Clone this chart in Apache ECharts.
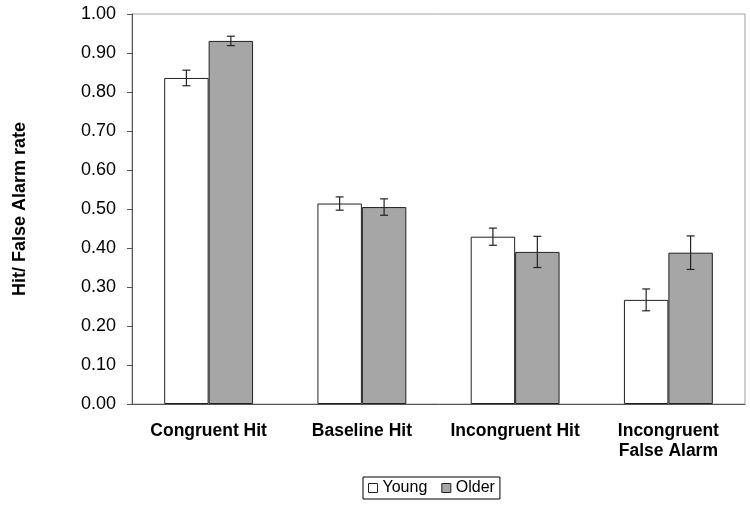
<!DOCTYPE html>
<html>
<head>
<meta charset="utf-8">
<script src="https://cdn.jsdelivr.net/npm/echarts@6/dist/echarts.min.js"></script>
<style>
    html, body { margin: 0; padding: 0; background: #fff; }
    #chart { width: 750px; height: 506px; }
</style>
</head>
<body>
<div id="chart"></div>
<script>
    var categories = ['Congruent Hit', 'Baseline Hit', 'Incongruent Hit', 'Incongruent\nFalse Alarm'];
    var youngValues = [0.836, 0.514, 0.429, 0.267];
    var youngErrors = [0.020, 0.017, 0.022, 0.028];
    var olderValues = [0.931, 0.505, 0.390, 0.388];
    var olderErrors = [0.012, 0.021, 0.040, 0.043];

    var chart = echarts.init(document.getElementById('chart'));
    var catGap = 0.42;

    /* error bars drawn on top of the bars */
    function errorSeries(values, errors, side) {
        var data = values.map(function (v, i) { return [i, v - errors[i], v + errors[i]]; });
        return {
            type: 'custom',
            z: 10,
            silent: true,
            data: data,
            renderItem: function (params, api) {
                var band = api.size([1, 0])[0];
                var barW = band * (1 - catGap) / 2;
                var lo = api.coord([api.value(0), api.value(1)]);
                var hi = api.coord([api.value(0), api.value(2)]);
                var x = lo[0] + side * barW / 2;
                var cap = 4;
                var style = { stroke: '#222', lineWidth: 1.2 };
                return {
                    type: 'group',
                    children: [
                        { type: 'line', shape: { x1: x, y1: lo[1], x2: x, y2: hi[1] }, style: style },
                        { type: 'line', shape: { x1: x - cap, y1: lo[1], x2: x + cap, y2: lo[1] }, style: style },
                        { type: 'line', shape: { x1: x - cap, y1: hi[1], x2: x + cap, y2: hi[1] }, style: style }
                    ]
                };
            }
        };
    }

    var option = {
        animation: false,
        textStyle: { fontFamily: 'Liberation Sans, Arial, sans-serif' },
        grid: {
            left: 132,
            right: 5,
            top: 14,
            bottom: 102,
            show: true,
            borderColor: '#a0a0a0',
            borderWidth: 1
        },
        legend: {
            top: 477,
            left: 363,
            data: ['Young', 'Older'],
            icon: 'rect',
            itemWidth: 9,
            itemHeight: 9,
            itemGap: 14,
            itemStyle: { borderWidth: 1 },
            borderColor: '#000',
            borderWidth: 1,
            padding: [3, 5],
            textStyle: { fontSize: 16, color: '#000' }
        },
        xAxis: {
            type: 'category',
            data: categories,
            axisLine: { lineStyle: { color: '#555' } },
            axisTick: { length: 5, lineStyle: { color: '#555' } },
            axisLabel: {
                color: '#000',
                fontWeight: 'bold',
                fontSize: 17.5,
                margin: 17,
                lineHeight: 20,
                interval: 0
            }
        },
        yAxis: {
            type: 'value',
            min: 0,
            max: 1,
            interval: 0.1,
            name: 'Hit/ False Alarm rate',
            nameLocation: 'middle',
            nameGap: 103,
            nameTextStyle: { fontWeight: 'bold', fontSize: 18, color: '#000' },
            axisLine: { show: true, lineStyle: { color: '#555' } },
            axisTick: { show: true, length: 5, lineStyle: { color: '#555' } },
            splitLine: { show: false },
            axisLabel: {
                color: '#000',
                fontSize: 18,
                margin: 16,
                formatter: function (v) { return v.toFixed(2); }
            }
        },
        series: [
            {
                name: 'Young',
                type: 'bar',
                barGap: 0,
                barCategoryGap: (catGap * 100) + '%',
                data: youngValues,
                itemStyle: { color: '#ffffff', borderColor: '#222', borderWidth: 1 }
            },
            {
                name: 'Older',
                type: 'bar',
                barGap: 0,
                barCategoryGap: (catGap * 100) + '%',
                data: olderValues,
                itemStyle: { color: '#a6a6a6', borderColor: '#222', borderWidth: 1 }
            },
            errorSeries(youngValues, youngErrors, -1),
            errorSeries(olderValues, olderErrors, 1)
        ]
    };
    chart.setOption(option);
</script>
</body>
</html>
